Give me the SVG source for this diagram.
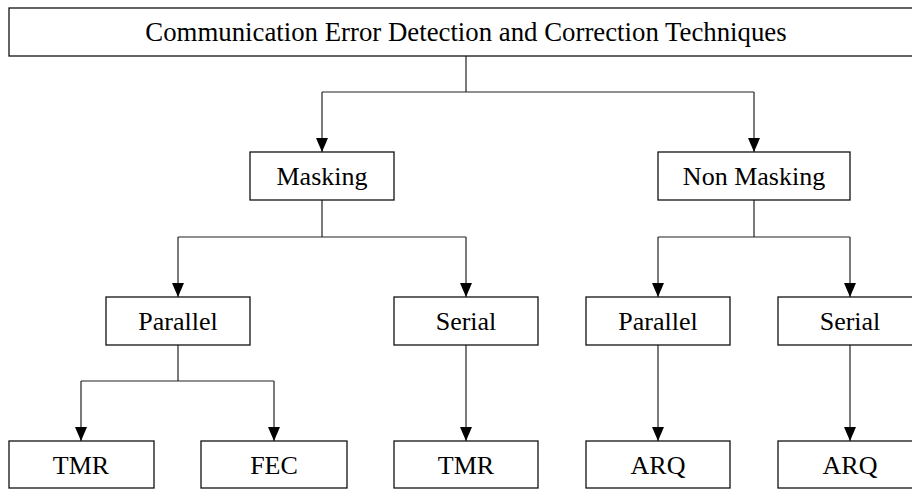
<svg xmlns="http://www.w3.org/2000/svg" width="912" height="489" viewBox="0 0 912 489">
<style>
.box{fill:#fff;stroke:#111;stroke-width:1.3}
.lbl{font-family:"Liberation Serif","Times New Roman",serif;font-size:26px;fill:#000;text-anchor:middle}
.con{fill:none;stroke:#222;stroke-width:1.2}
</style>
<defs>
<marker id="arr" viewBox="0 0 14 12" refX="14" refY="6" markerWidth="14" markerHeight="12" markerUnits="userSpaceOnUse" orient="auto">
<path d="M0,0 L14,6 L0,12 z" fill="#000"/>
</marker>
</defs>
<rect width="912" height="489" fill="#fff"/>
<g id="connectors">
<path class="con" d="M466,56 V92"/>
<path class="con" d="M322,92 H754"/>
<path class="con" d="M322,92 V152" marker-end="url(#arr)"/>
<path class="con" d="M754,92 V152" marker-end="url(#arr)"/>
<path class="con" d="M322,200 V237"/>
<path class="con" d="M178,237 H466"/>
<path class="con" d="M178,237 V297" marker-end="url(#arr)"/>
<path class="con" d="M466,237 V297" marker-end="url(#arr)"/>
<path class="con" d="M754,200 V237"/>
<path class="con" d="M658,237 H850"/>
<path class="con" d="M658,237 V297" marker-end="url(#arr)"/>
<path class="con" d="M850,237 V297" marker-end="url(#arr)"/>
<path class="con" d="M178,345 V381"/>
<path class="con" d="M81,381 H274"/>
<path class="con" d="M81,381 V441" marker-end="url(#arr)"/>
<path class="con" d="M274,381 V441" marker-end="url(#arr)"/>
<path class="con" d="M466,345 V441" marker-end="url(#arr)"/>
<path class="con" d="M658,345 V441" marker-end="url(#arr)"/>
<path class="con" d="M850,345 V441" marker-end="url(#arr)"/>
</g>
<g id="root">
<rect class="box" x="9" y="8" width="912" height="48"/>
<text class="lbl" x="466" y="41" style="font-size:26.8px">Communication Error Detection and Correction Techniques</text>
</g>
<g id="masking">
<rect class="box" x="250" y="152" width="144" height="48"/>
<text class="lbl" x="322" y="184.5">Masking</text>
</g>
<g id="nonmasking">
<rect class="box" x="658" y="152" width="192" height="48"/>
<text class="lbl" x="754" y="184.5">Non Masking</text>
</g>
<g id="m-parallel">
<rect class="box" x="106" y="297" width="144" height="48"/>
<text class="lbl" x="178" y="329.5">Parallel</text>
</g>
<g id="m-serial">
<rect class="box" x="394" y="297" width="144" height="48"/>
<text class="lbl" x="466" y="329.5">Serial</text>
</g>
<g id="n-parallel">
<rect class="box" x="586" y="297" width="144" height="48"/>
<text class="lbl" x="658" y="329.5">Parallel</text>
</g>
<g id="n-serial">
<rect class="box" x="778" y="297" width="144" height="48"/>
<text class="lbl" x="850" y="329.5">Serial</text>
</g>
<g id="tmr1">
<rect class="box" x="9" y="441" width="145" height="47"/>
<text class="lbl" x="81" y="473.5">TMR</text>
</g>
<g id="fec">
<rect class="box" x="201" y="441" width="146" height="47"/>
<text class="lbl" x="274" y="473.5">FEC</text>
</g>
<g id="tmr2">
<rect class="box" x="394" y="441" width="144" height="47"/>
<text class="lbl" x="466" y="473.5">TMR</text>
</g>
<g id="arq1">
<rect class="box" x="586" y="441" width="144" height="47"/>
<text class="lbl" x="658" y="473.5">ARQ</text>
</g>
<g id="arq2">
<rect class="box" x="778" y="441" width="144" height="47"/>
<text class="lbl" x="850" y="473.5">ARQ</text>
</g>
</svg>
